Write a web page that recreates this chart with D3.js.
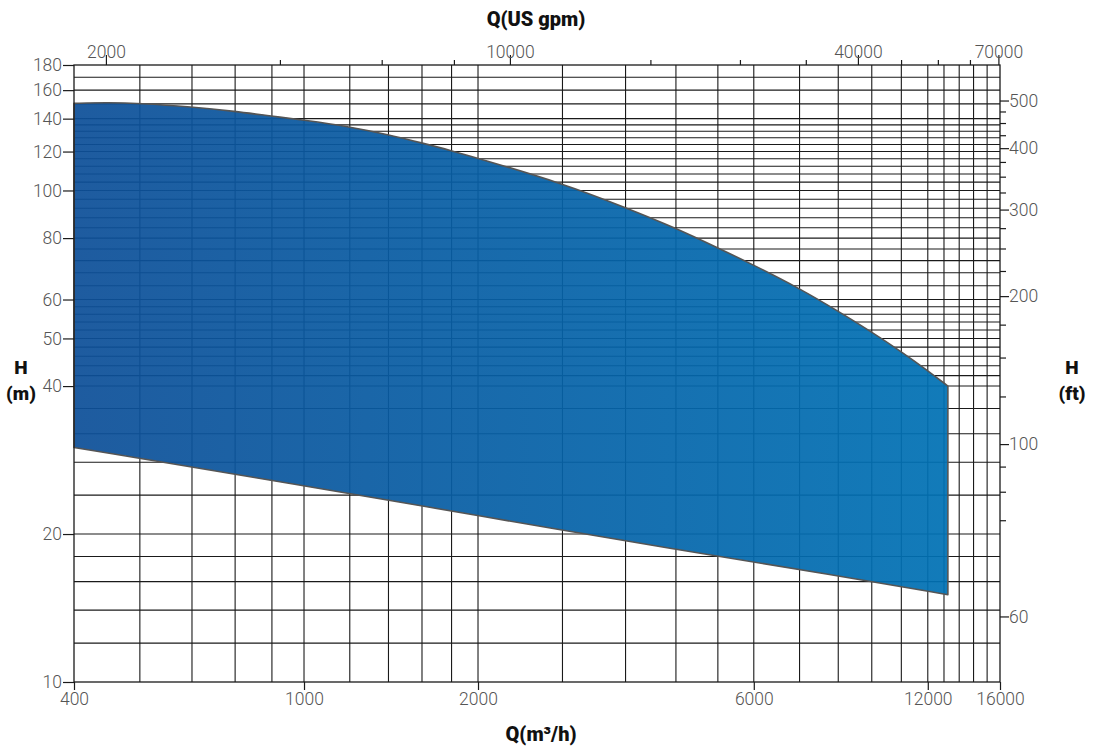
<!DOCTYPE html>
<html>
<head>
<meta charset="utf-8">
<script src="https://cdn.jsdelivr.net/npm/d3@7"></script>
<style>
  body { margin: 0; background: #fff; }
  #chart { width: 1094px; height: 746px; }
  .tick text { font-family: Roboto, "DejaVu Sans", sans-serif; font-weight: 300; fill: #555; }
  .title { font-family: Roboto, "DejaVu Sans", sans-serif; font-weight: 900; fill: #111; }
</style>
</head>
<body>
<div id="chart"></div>
<script>
// flow in m3/h, head in m
const qLabels = [400, 1000, 2000, 6000, 12000, 16000];
const qGrid = [520, 640, 760, 880, 1000, 1200, 1400, 1600, 1800, 2000, 2800, 3600, 4400, 5200,
  6000, 7200, 8400, 9600, 10800, 12000, 12800, 13600, 14400, 15200];
const hLabels = [10, 20, 40, 50, 60, 80, 100, 120, 140, 160, 180];
const hGrid = [12, 14, 16, 18, 20, 24, 28, 32, 36, 40, 42, 44, 46, 48, 50, 52, 54, 56, 58, 60,
  64, 68, 72, 76, 80, 84, 88, 92, 96, 100, 104, 108, 112, 116, 120, 124, 128, 132, 136, 140,
  150, 160, 170];

// top axis, US gpm
const gpmLabels = [2000, 10000, 40000, 70000];
const gpmMinor = [4000, 6000, 8000, 17500, 25000, 32500, 47500, 55000, 62500];

// right axis, ft (the "60" label sits where the picture puts it)
const ftLabels = [500, 400, 300, 200, 100, 44.6];
const ftLabelText = ["500", "400", "300", "200", "100", "60"];
const ftMinor = [475, 450, 425, 375, 350, 325, 275, 250, 225, 175, 150, 125, 90, 80, 70];

// operating range envelope
const qUpper = [400, 454, 520, 640, 760, 880, 1000, 1200, 1400, 1600, 1800, 2000, 2800, 3600,
  4400, 5200, 6000, 7200, 8400, 9600, 10800, 12000, 13000];
const hUpper = [150.4, 151, 150.5, 147.9, 144.9, 141.6, 139.1, 134.8, 129.9, 124.9, 120.5, 116.3,
  103.4, 92.3, 83.8, 76.4, 70.5, 63.2, 56.8, 51.5, 47.0, 43.0, 40.0];
const qLower = [400, 1000, 2000, 4400, 8400, 13000];
const hLower = [30.0, 25.1, 21.8, 18.6, 16.45, 15.05];

const GPM = 0.22712;   // m3/h per US gpm
const FT = 3.28084;    // ft per m

const width = 1094, height = 746;
const pLeft = 74, pRight = 1000, pTop = 65, pBottom = 682;

const svg = d3.select("#chart").append("svg")
  .attr("width", width)
  .attr("height", height);

const x = d3.scaleLog().domain([400, 16000]).range([pLeft, pRight]);
const y = d3.scaleLog().domain([10, 180]).range([pBottom, pTop]);
const xg = d3.scaleLog().domain([400 / GPM, 16000 / GPM]).range([pLeft, pRight]);
const yf = d3.scaleLog().domain([10 * FT, 180 * FT]).range([pBottom, pTop]);

// gradient for the envelope
const grad = svg.append("defs").append("linearGradient")
  .attr("id", "fillGrad")
  .attr("gradientUnits", "userSpaceOnUse")
  .attr("x1", x(400)).attr("x2", x(13000)).attr("y1", 0).attr("y2", 0);
grad.append("stop").attr("offset", "0%").attr("stop-color", "#0d4f98");
grad.append("stop").attr("offset", "100%").attr("stop-color", "#0071b4");

// grid
const grid = svg.append("g").attr("stroke", "#1a1a1a").attr("stroke-width", 1.1);
grid.selectAll(".vg").data(qGrid).join("line")
  .attr("x1", d => x(d)).attr("x2", d => x(d))
  .attr("y1", pTop).attr("y2", pBottom);
grid.selectAll(".hg").data(hGrid).join("line")
  .attr("x1", pLeft).attr("x2", pRight)
  .attr("y1", d => y(d)).attr("y2", d => y(d));

// envelope
const upperPts = qUpper.map((q, i) => [x(q), y(hUpper[i])]);
const lowerPts = qLower.map((q, i) => [x(q), y(hLower[i])]).reverse();
const line = d3.line().curve(d3.curveBasis);
const pathD = line(upperPts) + "L" + line(lowerPts).slice(1) + "Z";

svg.append("path")
  .attr("d", pathD)
  .attr("fill", "url(#fillGrad)")
  .attr("fill-opacity", 0.93)
  .attr("stroke", "#555")
  .attr("stroke-width", 1.6)
  .attr("stroke-linejoin", "round");

// frame
svg.append("rect")
  .attr("x", pLeft).attr("y", pTop)
  .attr("width", pRight - pLeft).attr("height", pBottom - pTop)
  .attr("fill", "none").attr("stroke", "#1a1a1a").attr("stroke-width", 1.3);

function styleAxis(g) {
  g.select(".domain").remove();
  g.selectAll(".tick line").attr("stroke", "#1a1a1a").attr("stroke-width", 1.2);
  g.selectAll(".tick text").attr("font-size", 17.5);
}

// bottom
svg.append("g")
  .attr("transform", `translate(0,${pBottom})`)
  .call(d3.axisBottom(x).tickValues(qLabels).tickSize(8).tickPadding(3).tickFormat(d3.format("d")))
  .call(styleAxis);

// left
svg.append("g")
  .attr("transform", `translate(${pLeft},0)`)
  .call(d3.axisLeft(y).tickValues(hLabels).tickSize(11).tickPadding(1).tickFormat(d3.format("d")))
  .call(styleAxis);

// top
svg.append("g")
  .attr("transform", `translate(0,${pTop})`)
  .call(d3.axisTop(xg).tickValues(gpmMinor).tickSize(5).tickFormat(""))
  .call(styleAxis);
svg.append("g")
  .attr("transform", `translate(0,${pTop})`)
  .call(d3.axisTop(xg).tickValues(gpmLabels).tickSize(10).tickPadding(-3).tickFormat(d3.format("d")))
  .call(styleAxis);

// right
svg.append("g")
  .attr("transform", `translate(${pRight},0)`)
  .call(d3.axisRight(yf).tickValues(ftMinor).tickSize(6).tickFormat(""))
  .call(styleAxis);
svg.append("g")
  .attr("transform", `translate(${pRight},0)`)
  .call(d3.axisRight(yf).tickValues(ftLabels).tickSize(9).tickPadding(0)
    .tickFormat((d, i) => ftLabelText[i]))
  .call(styleAxis);

// titles
svg.append("text").attr("class", "title")
  .attr("x", 536).attr("y", 26).attr("text-anchor", "middle").attr("font-size", 20)
  .text("Q(US gpm)");
svg.append("text").attr("class", "title")
  .attr("x", 541).attr("y", 741).attr("text-anchor", "middle").attr("font-size", 20)
  .text("Q(m³/h)");

const hm = svg.append("text").attr("class", "title")
  .attr("text-anchor", "middle").attr("font-size", 19);
hm.append("tspan").attr("x", 21).attr("y", 374).text("H");
hm.append("tspan").attr("x", 21).attr("y", 400).text("(m)");

const hf = svg.append("text").attr("class", "title")
  .attr("text-anchor", "middle").attr("font-size", 19);
hf.append("tspan").attr("x", 1072).attr("y", 374).text("H");
hf.append("tspan").attr("x", 1072).attr("y", 400).text("(ft)");
</script>
</body>
</html>
